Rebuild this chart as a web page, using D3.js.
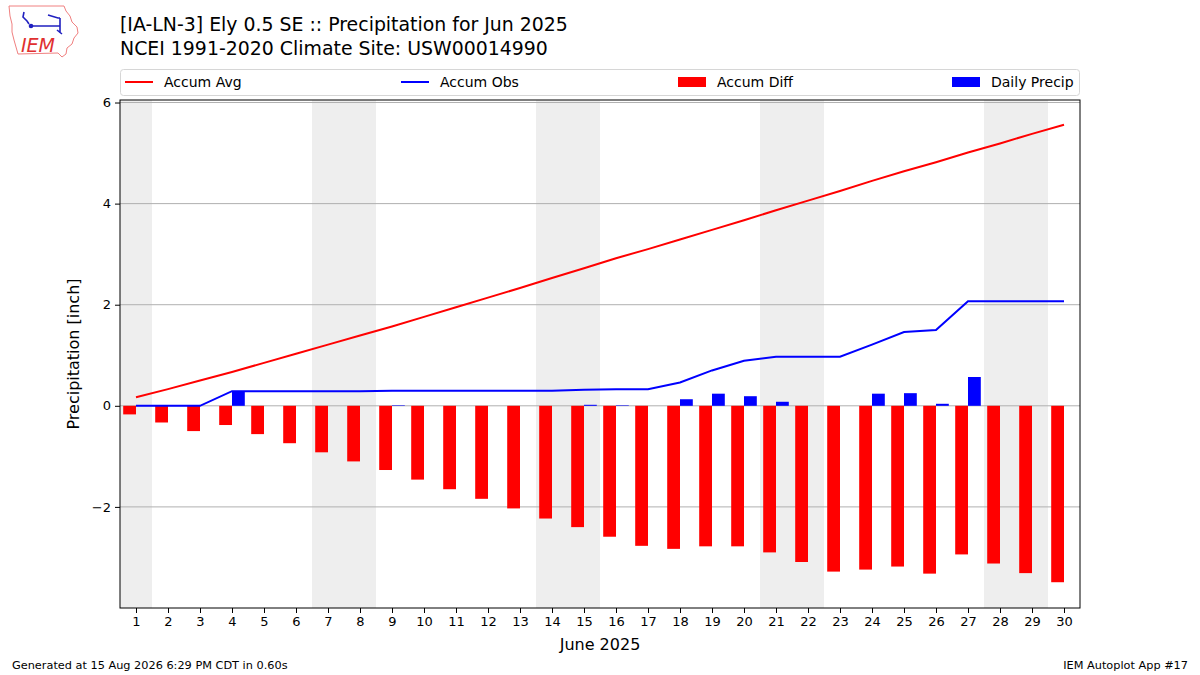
<!DOCTYPE html>
<html>
<head>
<meta charset="utf-8">
<script src="https://cdn.jsdelivr.net/npm/d3@7"></script>
<style>
  body { margin: 0; background: #fff; }
  svg text { font-family: "DejaVu Sans", sans-serif; }
</style>
</head>
<body>
<div id="vis"></div>
<script>
// frame size
const FRAME_WIDTH = 1200;
const FRAME_HEIGHT = 675;

// plot area inside the frame
const PLOT = {left: 120, right: 1080, top: 100, bottom: 608};

// days of June 2025
const DAYS = d3.range(1, 31);

// daily precipitation [inch]
const DAILY_PRECIP = [0, 0, 0, 0.29, 0, 0, 0, 0, 0.01, 0,
                      0, 0, 0, 0, 0.02, 0.01, 0, 0.13, 0.24, 0.19,
                      0.08, 0, 0, 0.24, 0.25, 0.04, 0.57, 0, 0, 0];

// accumulated observed precip [inch]
const ACCUM_OBS = [0, 0, 0, 0.29, 0.29, 0.29, 0.29, 0.29, 0.30, 0.30,
                   0.30, 0.30, 0.30, 0.30, 0.32, 0.33, 0.33, 0.46, 0.70, 0.89,
                   0.97, 0.97, 0.97, 1.21, 1.46, 1.50, 2.07, 2.07, 2.07, 2.07];

// accumulated climatology precip [inch]
const ACCUM_AVG = [0.17, 0.33, 0.50, 0.67, 0.85, 1.03, 1.21, 1.39, 1.57, 1.76,
                   1.95, 2.14, 2.33, 2.53, 2.72, 2.92, 3.10, 3.29, 3.48, 3.67,
                   3.87, 4.06, 4.25, 4.45, 4.64, 4.82, 5.01, 5.19, 5.38, 5.56];

// accumulated departure [inch]
const ACCUM_DIFF = [-0.17, -0.33, -0.50, -0.38, -0.56, -0.74, -0.92, -1.10, -1.27, -1.46,
                    -1.65, -1.84, -2.03, -2.23, -2.40, -2.59, -2.77, -2.83, -2.78, -2.78,
                    -2.90, -3.09, -3.28, -3.24, -3.18, -3.32, -2.94, -3.12, -3.31, -3.49];

// weekend spans (Sat/Sun) to shade
const WEEKENDS = [[0.5, 1.5], [6.5, 8.5], [13.5, 15.5], [20.5, 22.5], [27.5, 29.5]];

// y tick values
const Y_TICKS = [-2, 0, 2, 4, 6];

// legend entries
const LEGEND = [
  {label: "Accum Avg", kind: "line", color: "red", x: 125},
  {label: "Accum Obs", kind: "line", color: "blue", x: 401},
  {label: "Accum Diff", kind: "patch", color: "red", x: 678},
  {label: "Daily Precip", kind: "patch", color: "blue", x: 952}
];

const BAR_W = 0.4;

const svg = d3.select("#vis")
              .append("svg")
              .attr("width", FRAME_WIDTH)
              .attr("height", FRAME_HEIGHT);

const X_SCALE = d3.scaleLinear()
                  .domain([0.5, 30.5])
                  .range([PLOT.left, PLOT.right]);

const Y_SCALE = d3.scaleLinear()
                  .domain([-4.0, 6.05])
                  .range([PLOT.bottom, PLOT.top]);

// weekend shading
svg.selectAll(".wkend")
   .data(WEEKENDS)
   .enter()
   .append("rect")
     .attr("x", (d) => X_SCALE(d[0]))
     .attr("y", PLOT.top)
     .attr("width", (d) => X_SCALE(d[1]) - X_SCALE(d[0]))
     .attr("height", PLOT.bottom - PLOT.top)
     .attr("fill", "#eeeeee");

// horizontal grid
svg.selectAll(".grid")
   .data(Y_TICKS)
   .enter()
   .append("line")
     .attr("x1", PLOT.left)
     .attr("x2", PLOT.right)
     .attr("y1", (d) => Y_SCALE(d))
     .attr("y2", (d) => Y_SCALE(d))
     .attr("stroke", "#b0b0b0")
     .attr("stroke-width", 1);

// accum diff bars (left of the day)
svg.selectAll(".diff")
   .data(DAYS)
   .enter()
   .append("rect")
     .attr("x", (d) => X_SCALE(d - BAR_W))
     .attr("y", (d, i) => Y_SCALE(Math.max(0, ACCUM_DIFF[i])))
     .attr("width", X_SCALE(BAR_W) - X_SCALE(0))
     .attr("height", (d, i) => Math.abs(Y_SCALE(ACCUM_DIFF[i]) - Y_SCALE(0)))
     .attr("fill", "red");

// daily precip bars (right of the day)
svg.selectAll(".daily")
   .data(DAYS)
   .enter()
   .append("rect")
     .attr("x", (d) => X_SCALE(d))
     .attr("y", (d, i) => Y_SCALE(DAILY_PRECIP[i]))
     .attr("width", X_SCALE(BAR_W) - X_SCALE(0))
     .attr("height", (d, i) => Y_SCALE(0) - Y_SCALE(DAILY_PRECIP[i]))
     .attr("fill", "blue");

// accum lines
const line = (arr) => d3.line()
                        .x((d) => X_SCALE(d))
                        .y((d, i) => Y_SCALE(arr[i]))(DAYS);

svg.append("path")
   .attr("d", line(ACCUM_AVG))
   .attr("fill", "none")
   .attr("stroke", "red")
   .attr("stroke-width", 2);

svg.append("path")
   .attr("d", line(ACCUM_OBS))
   .attr("fill", "none")
   .attr("stroke", "blue")
   .attr("stroke-width", 2);

// axes
const xAxis = svg.append("g")
   .attr("transform", "translate(0," + PLOT.bottom + ")")
   .call(d3.axisBottom(X_SCALE).tickValues(DAYS).tickSize(5).tickPadding(4).tickFormat(d3.format("d")));

const yAxis = svg.append("g")
   .attr("transform", "translate(" + PLOT.left + ",0)")
   .call(d3.axisLeft(Y_SCALE).tickValues(Y_TICKS).tickSize(5).tickPadding(4)
            .tickFormat((d) => d < 0 ? "\u2212" + Math.abs(d) : d));

[xAxis, yAxis].forEach((g) => {
  g.select(".domain").remove();
  g.selectAll("line").attr("stroke", "#000").attr("stroke-width", 1);
  g.selectAll("text").attr("font-size", "13px").attr("fill", "#000")
   .attr("font-family", "DejaVu Sans");
});

// plot frame
svg.append("rect")
   .attr("x", PLOT.left)
   .attr("y", PLOT.top)
   .attr("width", PLOT.right - PLOT.left)
   .attr("height", PLOT.bottom - PLOT.top)
   .attr("fill", "none")
   .attr("stroke", "#000")
   .attr("stroke-width", 1);

// axis labels
svg.append("text")
   .attr("x", (PLOT.left + PLOT.right) / 2)
   .attr("y", 650)
   .attr("text-anchor", "middle")
   .attr("font-size", "16px")
   .text("June 2025");

svg.append("text")
   .attr("transform", "translate(79," + ((PLOT.top + PLOT.bottom) / 2) + ") rotate(-90)")
   .attr("text-anchor", "middle")
   .attr("font-size", "16px")
   .text("Precipitation [inch]");

// titles
svg.append("text")
   .attr("x", 120).attr("y", 31)
   .attr("font-size", "18.9px")
   .text("[IA-LN-3] Ely 0.5 SE :: Precipitation for Jun 2025");

svg.append("text")
   .attr("x", 120).attr("y", 55)
   .attr("font-size", "18.9px")
   .text("NCEI 1991-2020 Climate Site: USW00014990");

// legend
svg.append("rect")
   .attr("x", 120.5).attr("y", 69.5)
   .attr("width", 959).attr("height", 26)
   .attr("rx", 3)
   .attr("fill", "#fff")
   .attr("stroke", "#d6d6d6");

const leg = svg.selectAll(".leg")
   .data(LEGEND)
   .enter()
   .append("g")
     .attr("transform", (d) => "translate(" + d.x + ",82)");

leg.filter((d) => d.kind == "line")
   .append("line")
     .attr("x1", 0).attr("x2", 28)
     .attr("stroke", (d) => d.color)
     .attr("stroke-width", 2);

leg.filter((d) => d.kind == "patch")
   .append("rect")
     .attr("x", 0).attr("y", -5)
     .attr("width", 28).attr("height", 10)
     .attr("fill", (d) => d.color);

leg.append("text")
   .attr("x", 39).attr("y", 5)
   .attr("font-size", "14px")
   .text((d) => d.label);

// footer
svg.append("text")
   .attr("x", 12).attr("y", 669)
   .attr("font-size", "11.3px")
   .text("Generated at 15 Aug 2026 6:29 PM CDT in 0.60s");

svg.append("text")
   .attr("x", 1188).attr("y", 669)
   .attr("text-anchor", "end")
   .attr("font-size", "11.3px")
   .text("IEM Autoplot App #17");

// IEM logo, rough Iowa outline
const logo = svg.append("g");
logo.append("path")
    .attr("d", "M9,6 L64,6 L66,11 L70,16 L72,22 L77,27 L78,33 L74,38 L72,44 L67,48 L66,54 L62,57 L58,53 L18,54 L16,47 L14,40 L12,32 L12,24 L10,16 Z")
    .attr("fill", "#fff")
    .attr("stroke", "#f08080")
    .attr("stroke-width", 1);
logo.append("path")
    .attr("d", "M31,26 L60,26 M48,15 L58,18 L60,18 M60,18 L60,33 M24,12 L23,17 L27,21 L29,24 M57,30 L62,34")
    .attr("fill", "none")
    .attr("stroke", "#2020c0")
    .attr("stroke-width", 1.6);
logo.append("circle").attr("cx", 31).attr("cy", 26).attr("r", 2.3).attr("fill", "#2020c0");
logo.append("text")
    .attr("x", 21).attr("y", 52)
    .attr("font-family", "Liberation Serif")
    .attr("font-style", "italic")
    .attr("font-size", "19px")
    .attr("fill", "#e03030")
    .text("IEM");
</script>
</body>
</html>
